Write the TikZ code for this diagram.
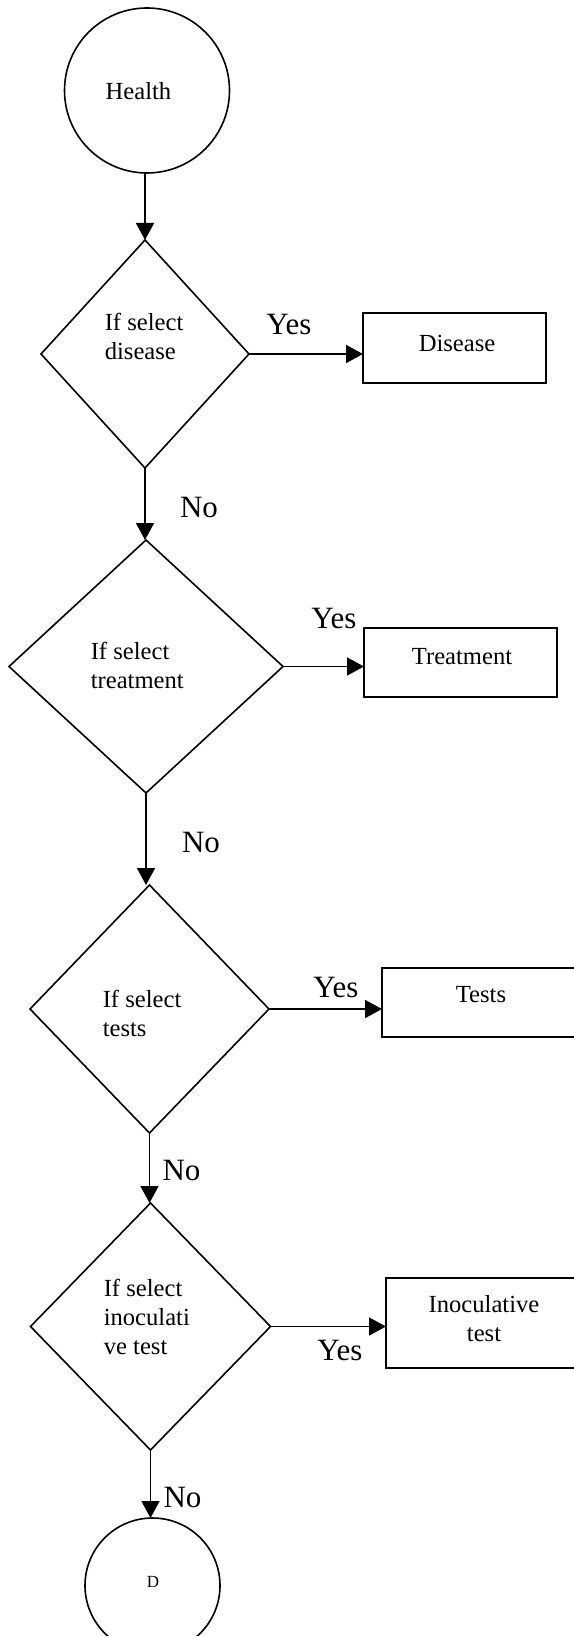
\documentclass[tikz,border=0pt]{standalone}
\usepackage{fontspec}
\setmainfont{Liberation Serif}
\usetikzlibrary{shapes.geometric,arrows.meta}

\begin{document}
\begin{tikzpicture}[
  x=0.5pt, y=-0.5pt,
  line width=0.8pt,
  arr/.style={-{Triangle[length=8.5pt,width=9pt]}},
  decision/.style={draw, diamond, inner sep=0pt, outer sep=0pt},
  stepbox/.style={draw, rectangle, inner sep=0pt, outer sep=0pt},
  terminal/.style={draw, circle, inner sep=0pt, outer sep=0pt},
  body/.style={inner sep=0pt, font=\fontsize{12.3}{14.5}\selectfont},
  lbl/.style={inner sep=0pt, font=\fontsize{15.5}{18}\selectfont}
]
\useasboundingbox (0,0) rectangle (573,1636);

% start circle
\node[terminal, minimum size=82.5pt] (health) at (147,90.5) {};
\node[body] (healtht) at (138.5,91.5) {Health};

% decisions
\node[decision, minimum width=104pt, minimum height=114pt] (d1) at (145,354) {};
\node[body, anchor=west, align=left] (d1t) at (104,336) {If select\\disease};

\node[decision, minimum width=137pt, minimum height=126.5pt] (d2) at (146,666.5) {};
\node[body, anchor=west, align=left] (d2t) at (90,665) {If select\\treatment};

\node[decision, minimum width=119.5pt, minimum height=124pt] (d3) at (149.5,1009) {};
\node[body, anchor=west, align=left] (d3t) at (102,1013.5) {If select\\tests};

\node[decision, minimum width=120pt, minimum height=123.5pt] (d4) at (150.5,1326.5) {};
\node[body, anchor=west, align=left] (d4t) at (103,1317) {If select\\inoculati\\ve test};

% result boxes
\node[stepbox, minimum width=91.5pt, minimum height=35pt] (dis) at (454.5,348) {};
\node[body] (dist) at (457,343) {Disease};

\node[stepbox, minimum width=96.5pt, minimum height=34.5pt] (trt) at (460.5,662.5) {};
\node[body] (trtt) at (462,657) {Treatment};

\node[stepbox, minimum width=109pt, minimum height=34.5pt] (tst) at (491,1002.5) {};
\node[body] (tstt) at (481,995) {Tests};

\node[stepbox, minimum width=107pt, minimum height=45pt] (ino) at (493,1323) {};
\node[body, align=center] (inot) at (484,1319) {Inoculative\\test};

% end connector
\node[terminal, minimum size=67.5pt] (dend) at (152.5,1585.5) {};
\node[inner sep=0pt, font=\fontsize{8.5}{10}\selectfont] (dendt) at (153,1582) {D};

% main flow
\draw[arr] (d1.north |- health.south) -- (d1.north);
\draw[arr] (d1.south) -- (d1.south |- d2.north);
\draw[arr] (d2.south) -- (d2.south |- d3.north);
\draw[arr] (d3.south) -- (d3.south |- d4.north);
\draw[arr] (d4.south) -- (d4.south |- dend.north);

% yes branches
\draw[arr] (d1.east) -- (d1.east -| dis.west);
\draw[arr] (d2.east) -- (d2.east -| trt.west);
\draw[arr] (d3.east) -- (d3.east -| tst.west);
\draw[arr] (d4.east) -- (d4.east -| ino.west);

% branch labels
\node[lbl] (y1) at (289,325) {Yes};
\node[lbl] (n1) at (199,508) {No};
\node[lbl] (y2) at (334,618) {Yes};
\node[lbl] (n2) at (201,842) {No};
\node[lbl] (y3) at (336,987) {Yes};
\node[lbl] (n3) at (181.5,1170) {No};
\node[lbl] (y4) at (340,1350) {Yes};
\node[lbl] (n4) at (182.5,1497) {No};
\end{tikzpicture}
\end{document}
